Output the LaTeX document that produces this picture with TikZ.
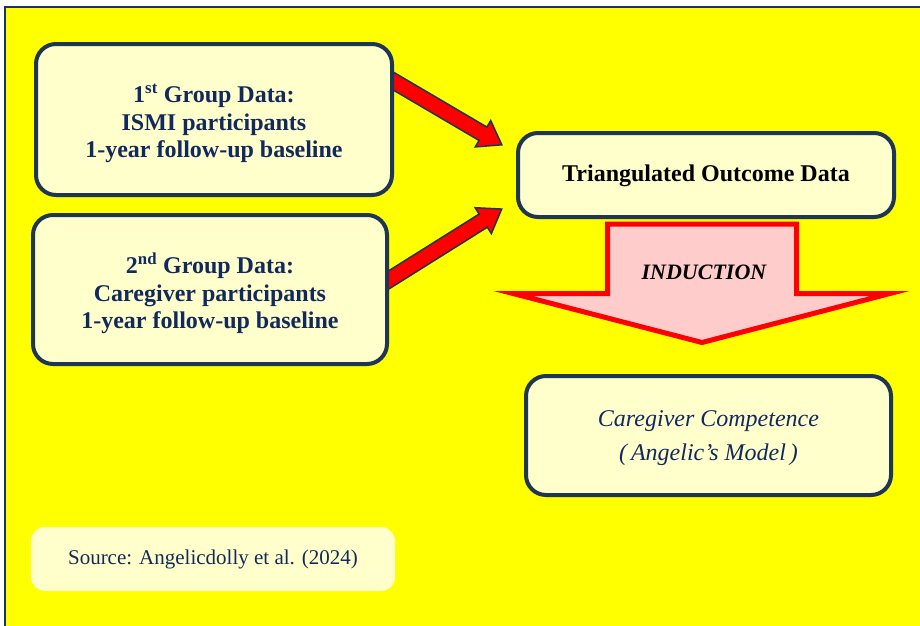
\documentclass[tikz,border=0pt]{standalone}
\usepackage{fontspec}
\setmainfont{Liberation Serif}
\usetikzlibrary{shapes.arrows,calc}
\definecolor{bgyellow}{HTML}{FFFF00}
\definecolor{boxfill}{HTML}{FFFFCC}
\definecolor{boxline}{HTML}{1F3652}
\definecolor{navytext}{HTML}{12295E}
\definecolor{pinkfill}{HTML}{FFCCCC}
\begin{document}
\begin{tikzpicture}[x=1pt,y=-1pt,
  databox/.style={draw=boxline, line width=4pt, fill=boxfill, rounded corners=20pt,
    inner sep=0pt},
  boxtext/.style={align=center, inner sep=0pt},
  grouptext/.style={boxtext, font=\fontsize{24}{27.5}\selectfont\bfseries, text=navytext},
  redarrow/.style={single arrow, draw=boxline, fill=red, line width=1.5pt,
    inner xsep=0pt, inner ysep=7pt, single arrow head extend=7.5pt,
    single arrow tip angle=70},
  bigarrow/.style={draw=red, line width=5pt, fill=pinkfill, miter limit=12}
]
\useasboundingbox (0,0) rectangle (920,625);
\fill[white] (0,0) rectangle (920,625);
\draw[draw=boxline, line width=1.5pt, fill=bgyellow] (5,7) rectangle (935,640);

% red block arrows
\coordinate (a1s) at (383,75);
\coordinate (a1e) at (497,142);
\coordinate (a2s) at (379,286);
\coordinate (a2e) at (497,212);
\path let \p1=($(a1e)-(a1s)$), \n1={atan2(\y1,\x1)}, \n2={veclen(\x1,\y1)} in
  node[redarrow, rotate=\n1, minimum height=\n2] (arr1) at ($(a1s)!0.5!(a1e)$) {};
\path let \p1=($(a2e)-(a2s)$), \n1={atan2(\y1,\x1)}, \n2={veclen(\x1,\y1)} in
  node[redarrow, rotate=\n1, minimum height=\n2] (arr2) at ($(a2s)!0.5!(a2e)$) {};

% boxes
\node[databox, minimum width=356pt, minimum height=151pt] (g1) at (214,119.5) {};
\node[grouptext] (g1t) at ($(g1.center)+(0,4)$)
  {1\textsuperscript{st} Group Data:\\ISMI participants\\1-year follow-up baseline};
\node[databox, minimum width=354pt, minimum height=149pt] (g2) at (210,289.5) {};
\node[grouptext] (g2t) at ($(g2.center)+(0,4)$)
  {2\textsuperscript{nd} Group Data:\\Caregiver participants\\1-year follow-up baseline};
\node[databox, minimum width=376pt, minimum height=84pt] (tri) at (706,175) {};
\node[boxtext, font=\fontsize{24}{27}\selectfont\bfseries] (trit) at ($(tri.center)+(0,1)$)
  {Triangulated Outcome Data};
\node[databox, minimum width=365pt, minimum height=119pt] (cc) at (708.5,435.5) {};
\node[boxtext, font=\fontsize{24}{34}\selectfont\itshape, text=navytext] (cct)
  at ($(cc.center)+(0,3)$) {Caregiver Competence\\(\,Angelic’s Model\,)};
\node[fill=boxfill, rounded corners=14pt, minimum width=364pt, minimum height=64pt,
  inner sep=0pt, font=\fontsize{21}{25}\selectfont, text=navytext] (src) at (213,559)
  {Source: Angelicdolly et al. (2024)};

% big induction arrow
\draw[bigarrow] (607.5,224) -- (607.5,293.5) -- (513,293.5) -- (702,342.5)
  -- (890,293.5) -- (796.5,293.5) -- (796.5,224) -- cycle;
\node[font=\fontsize{22}{26}\selectfont\bfseries\itshape, inner sep=0pt] (ind) at (704,272) {INDUCTION};
\end{tikzpicture}
\end{document}
